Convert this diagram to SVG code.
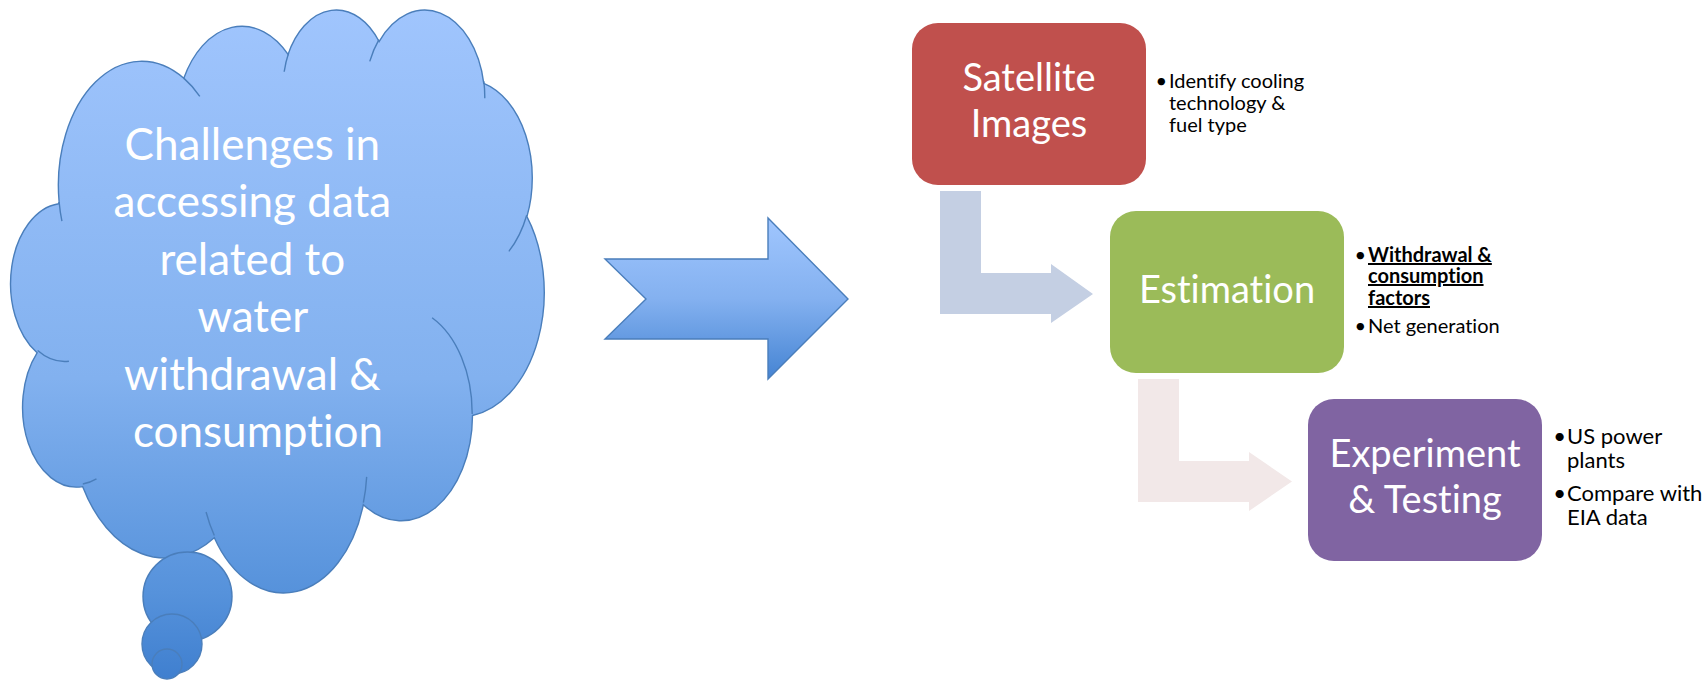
<svg xmlns="http://www.w3.org/2000/svg" width="1707" height="681" viewBox="0 0 1707 681">
<defs>
<linearGradient id="blueGrad" gradientUnits="userSpaceOnUse" x1="0" y1="10" x2="0" y2="680">
<stop offset="0" stop-color="#A0C5FD"/>
<stop offset="0.55" stop-color="#82B1EF"/>
<stop offset="0.87" stop-color="#5692DB"/>
<stop offset="1" stop-color="#3F7FCF"/>
</linearGradient>
<linearGradient id="cloudGrad" gradientUnits="userSpaceOnUse" x1="0" y1="141" x2="0" y2="49807">
<stop offset="0" stop-color="#A0C5FD"/>
<stop offset="0.55" stop-color="#82B1EF"/>
<stop offset="0.87" stop-color="#5692DB"/>
<stop offset="1" stop-color="#3F7FCF"/>
</linearGradient>
<linearGradient id="arrowGrad" x1="0" y1="0" x2="0" y2="1">
<stop offset="0" stop-color="#A0C6FE"/>
<stop offset="0.5" stop-color="#84B1F0"/>
<stop offset="1" stop-color="#4584D3"/>
</linearGradient>
</defs>
<style>
text{font-variant-ligatures:none;}
.outline{stroke:#4A7EBB;stroke-width:1.4;}
.cloudtxt{font-family:Lato,"Liberation Sans",sans-serif;font-size:44px;fill:#FFFFFF;text-anchor:middle;}
.boxtxt{font-family:Lato,"Liberation Sans",sans-serif;font-size:38px;fill:#FFFFFF;text-anchor:middle;}
.bul{font-family:Lato,"Liberation Sans",sans-serif;font-size:20px;fill:#000000;}
.bul2{font-family:Lato,"Liberation Sans",sans-serif;font-size:22px;fill:#000000;}
.dot{text-anchor:end;}
.strong{font-weight:bold;text-decoration:underline;}
</style>

<g id="cloud">
<g transform="translate(11,8.1) scale(0.012338,0.01349)">
<path fill="url(#cloudGrad)" class="outline" vector-effect="non-scaling-stroke" d="M3900,14370 A6753,9190 0 0,1 14005,5203 A5333,7267 0 0,1 22456,3432 A4365,5945 0 0,1 29833,2480 A4857,6595 0 0,1 38318,5576 A5333,7273 0 0,1 41818,15459 A6775,9220 0 0,1 37405,30203 A5785,7867 0 0,1 28556,36813 A6752,9215 0 0,1 16480,39264 A7720,10543 0 0,1 5804,35470 A4360,5918 0 0,1 2113,25549 A4345,5945 0 0,1 3863,14505 Z"/>
<path fill="none" class="outline" vector-effect="non-scaling-stroke" d="M4693,26177 A4345,5945 0 0,1 2160,25380 M6928,34899 A4360,5918 0 0,1 5820,35280 M16478,39090 A6752,9215 0 0,1 15810,37350 M28827,34751 A6752,9215 0 0,1 28560,36660 M34129,22954 A5785,7867 0 0,1 37378,30088 M41798,15354 A5333,7273 0 0,1 40349,18031 M38324,5426 A4857,6595 0 0,1 38400,6690 M29078,3952 A4857,6595 0 0,1 29820,2341 M22141,4720 A4365,5945 0 0,1 22500,3331 M14000,5192 A6753,9190 0 0,1 15301,6542 M4127,15789 A6753,9190 0 0,1 3900,14371"/>
</g>
<circle cx="187.5" cy="596.5" r="44.5" fill="url(#blueGrad)" class="outline"/>
<circle cx="172" cy="644" r="30" fill="url(#blueGrad)" class="outline"/>
<circle cx="167" cy="664" r="15" fill="url(#blueGrad)" class="outline"/>
<text class="cloudtxt" x="258">
<tspan x="258" y="160">Challenges in</tspan>
<tspan x="258" y="217">accessing data</tspan>
<tspan x="258" y="275">related to</tspan>
<tspan x="258" y="332">water</tspan>
<tspan x="258" y="390">withdrawal &amp;</tspan>
<tspan x="258" y="447">consumption</tspan>
</text>
</g>

<g id="bigArrow">
<polygon points="605,259 768,259 768,218 848,299 768,379 768,339 605,339 646,299" fill="url(#arrowGrad)" class="outline"/>
</g>

<g id="connectors">
<path d="M940,191 H981 V273 H1051 V264 L1093,294 L1051,323 V314 H940 Z" fill="#C4CFE3"/>
<path d="M1138,379 H1179 V461 H1249 V452 L1292,481.5 L1249,511 V502 H1138 Z" fill="#F2E8E8"/>
</g>

<g id="satellite">
<rect x="912" y="23" width="234" height="162" rx="26" fill="#C0504D"/>
<text class="boxtxt"><tspan x="1029" y="91">Satellite</tspan><tspan x="1029" y="137">Images</tspan></text>
<text class="bul dot" x="1167" y="88">•</text>
<text class="bul"><tspan x="1169" y="88">Identify cooling</tspan><tspan x="1169" y="110">technology &amp;</tspan><tspan x="1169" y="132">fuel type</tspan></text>
</g>

<g id="estimation">
<rect x="1110" y="211" width="234" height="162" rx="26" fill="#9BBB59"/>
<text class="boxtxt"><tspan x="1227" y="303">Estimation</tspan></text>
<text class="bul dot" x="1366" y="262">•</text>
<text class="bul dot" x="1366" y="333">•</text>
<text class="bul"><tspan class="strong" x="1368" y="262">Withdrawal &amp;</tspan><tspan class="strong" x="1368" y="283">consumption</tspan><tspan class="strong" x="1368" y="305">factors</tspan><tspan x="1368" y="333">Net generation</tspan></text>
</g>

<g id="experiment">
<rect x="1308" y="399" width="234" height="162" rx="26" fill="#8064A2"/>
<text class="boxtxt"><tspan x="1425" y="467">Experiment</tspan><tspan x="1425" y="513">&amp; Testing</tspan></text>
<text class="bul2 dot" x="1566" y="444">•</text>
<text class="bul2 dot" x="1566" y="501">•</text>
<text class="bul2"><tspan x="1567" y="444">US power</tspan><tspan x="1567" y="468">plants</tspan><tspan x="1567" y="501">Compare with</tspan><tspan x="1567" y="525">EIA data</tspan></text>
</g>
</svg>
